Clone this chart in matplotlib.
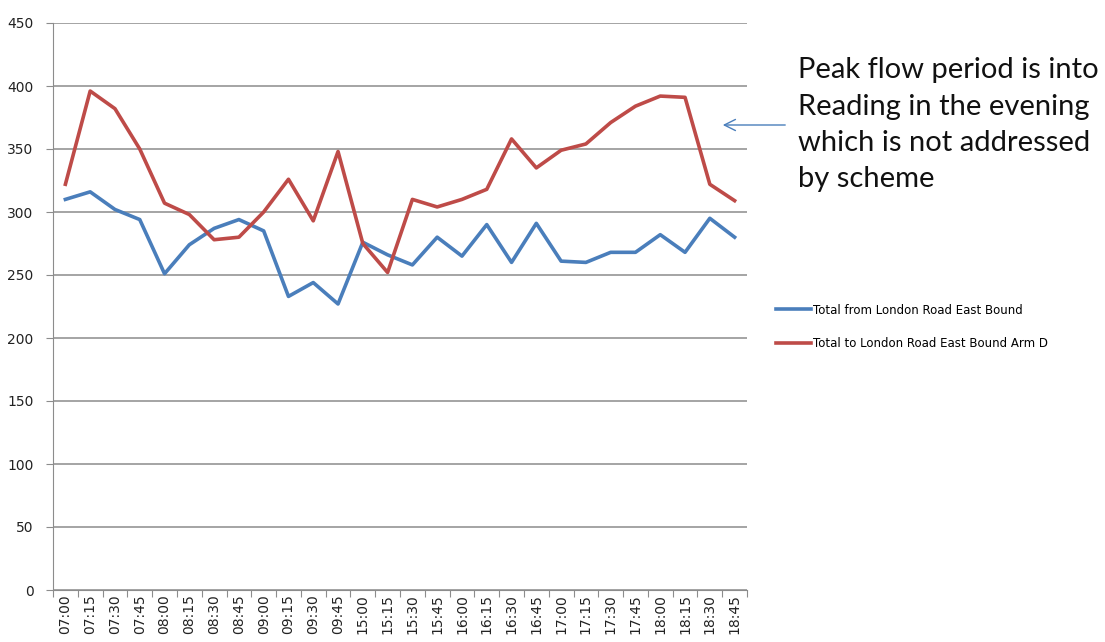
import matplotlib
matplotlib.use("Agg")
import matplotlib.pyplot as plt
import numpy as np

times = ["07:00","07:15","07:30","07:45","08:00","08:15","08:30","08:45","09:00","09:15",
         "09:30","09:45","15:00","15:15","15:30","15:45","16:00","16:15","16:30","16:45",
         "17:00","17:15","17:30","17:45","18:00","18:15","18:30","18:45"]
total_from = [310, 316, 302, 294, 251, 274, 287, 294, 285, 233,
              244, 227, 276, 266, 258, 280, 265, 290, 260, 291,
              261, 260, 268, 268, 282, 268, 295, 280]
total_to = [322, 396, 382, 350, 307, 298, 278, 280, 300, 326,
            293, 348, 275, 252, 310, 304, 310, 318, 358, 335,
            349, 354, 371, 384, 392, 391, 322, 309]
series_labels = ["Total from London Road East Bound", "Total to London Road East Bound Arm D"]
yticks = list(range(0, 451, 50))

fig = plt.figure(figsize=(11.05, 6.42), dpi=100)
ax = fig.add_axes([53/1105, 1-590/642, (747-53)/1105, (590-23)/642])

x = np.arange(len(times))
l1, = ax.plot(x, total_from, color="#4a7ebb", lw=2.6, label=series_labels[0])
l2, = ax.plot(x, total_to, color="#be4b48", lw=2.6, label=series_labels[1])

ax.set_xlim(-0.5, len(times) - 0.5)
ax.set_ylim(0, 450)
ax.set_yticks(yticks)
ax.set_yticklabels([str(v) for v in yticks], fontsize=10, color="#222222")
ax.yaxis.grid(True, color="#8c8c8c", lw=1.1)
ax.set_axisbelow(True)

ax.set_xticks(np.arange(len(times) + 1) - 0.5)
ax.set_xticklabels([])
ax.set_xticks(x, minor=True)
ax.set_xticklabels(times, minor=True, rotation=90, fontsize=10, color="#222222")
ax.tick_params(axis="x", which="major", length=5, color="#8c8c8c", direction="out")
ax.tick_params(axis="x", which="minor", length=0, pad=3)
ax.tick_params(axis="y", length=5, color="#8c8c8c", direction="out", pad=9)

for s in ["top", "right"]:
    ax.spines[s].set_visible(False)
ax.spines["left"].set_color("#8c8c8c")
ax.spines["bottom"].set_color("#8c8c8c")

fig.legend(handles=[l1, l2], loc="upper left", bbox_to_anchor=(765/1105, 1-293/642),
           frameon=False, fontsize=8.5, handlelength=3.0, handletextpad=0.2,
           labelspacing=1.75)

fig.text(798/1105, 1-57/642,
         "Peak flow period is into\nReading in the evening\nwhich is not addressed\nby scheme",
         fontsize=21, family="Lato", va="top", ha="left", linespacing=1.5, color="#111111")

fig.add_artist(matplotlib.patches.FancyArrowPatch(
    (788/1105, 1-125/642), (720/1105, 1-125/642), transform=fig.transFigure,
    arrowstyle="->,head_length=8,head_width=4", color="#4a7ebb", lw=1.0))

fig.savefig("out.png", dpi=100)
